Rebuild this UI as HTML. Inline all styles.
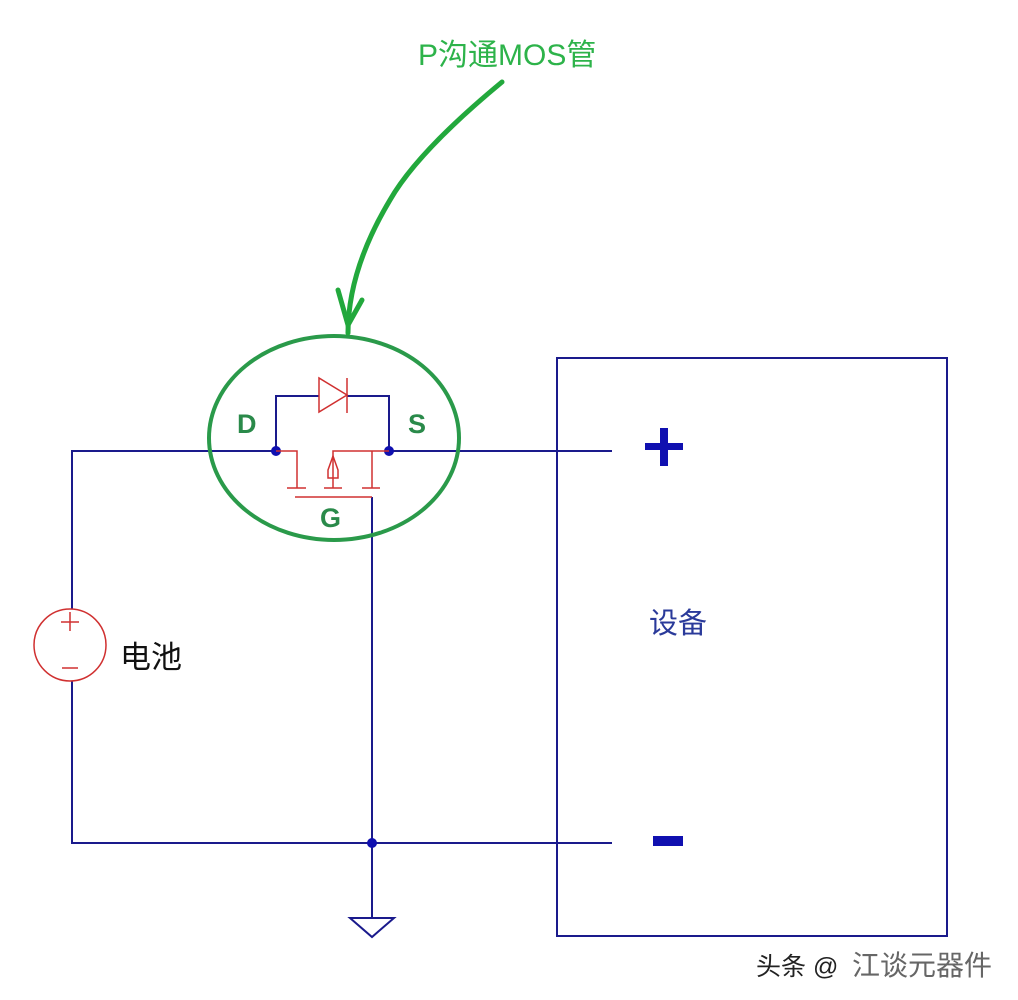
<!DOCTYPE html>
<html><head><meta charset="utf-8"><style>
html,body{margin:0;padding:0;background:#fff;width:1018px;height:1000px;overflow:hidden}
svg{display:block}
text{font-family:"Liberation Sans","Noto Sans CJK SC",sans-serif}
</style></head><body>
<svg width="1018" height="1000" viewBox="0 0 1018 1000" xmlns="http://www.w3.org/2000/svg">
<g stroke="#1a1a8c" stroke-width="2" fill="none">
<rect x="557" y="358" width="390" height="578"/>
<polyline points="72,609 72,451 276,451"/>
<line x1="389" y1="451" x2="612" y2="451"/>
<polyline points="72,681 72,843 612,843"/>
<polyline points="276,451 276,396 319,396"/>
<polyline points="347,396 389,396 389,451"/>
<line x1="372" y1="497" x2="372" y2="918"/>
<polygon points="350,918 394,918 372,937" fill="#fff"/>
</g>
<g fill="#1010b0">
<circle cx="276" cy="451" r="5"/><circle cx="389" cy="451" r="5"/><circle cx="372" cy="843" r="5"/>
<rect x="653" y="836" width="30" height="10"/>
<rect x="645" y="443" width="38" height="7"/><rect x="660" y="428" width="8" height="38"/>
</g>
<g stroke="#d03030" stroke-width="1.5" fill="none">
<polyline points="276,451 297,451 297,488"/>
<line x1="287" y1="488" x2="306" y2="488"/>
<polyline points="389,451 333,451 333,488"/>
<line x1="324" y1="488" x2="342" y2="488"/>
<polygon points="333,456 338,470 338,478 328,478 328,470"/>
<line x1="372" y1="451" x2="372" y2="488"/>
<line x1="362" y1="488" x2="380" y2="488"/>
<line x1="295" y1="497" x2="372" y2="497"/>
<polygon points="319,378 319,412 347,395"/>
<line x1="347" y1="378" x2="347" y2="413"/>
<circle cx="70" cy="645" r="36"/>
<line x1="70" y1="612" x2="70" y2="631"/><line x1="61" y1="622" x2="79" y2="622"/>
<line x1="62" y1="668" x2="78" y2="668"/>
</g>
<ellipse cx="334" cy="438" rx="125" ry="102" fill="none" stroke="#2a9a4a" stroke-width="4"/>
<path d="M502,82 C450,125 410,165 390,200 C360,250 348,295 348,333" fill="none" stroke="#22a83c" stroke-width="5" stroke-linecap="round"/>
<path d="M338,290 L348,325 L362,300" fill="none" stroke="#22a83c" stroke-width="5" stroke-linecap="round"/>
<text x="418" y="65" font-size="30" fill="#2db34a">P沟通MOS管</text>
<text x="237" y="433" font-size="27" font-weight="bold" fill="#2a8a4a">D</text>
<text x="408" y="433" font-size="27" font-weight="bold" fill="#2a8a4a">S</text>
<text x="320" y="527" font-size="27" font-weight="bold" fill="#2a8a4a">G</text>
<text x="120" y="668" font-size="31" fill="#111">电池</text>
<text x="649" y="633" font-size="29" fill="#2a3a9a">设备</text>
<text x="756" y="975" font-size="25" fill="#222">头条 @</text>
<text x="852" y="975" font-size="28" fill="#666">江谈元器件</text>
</svg>
</body></html>
